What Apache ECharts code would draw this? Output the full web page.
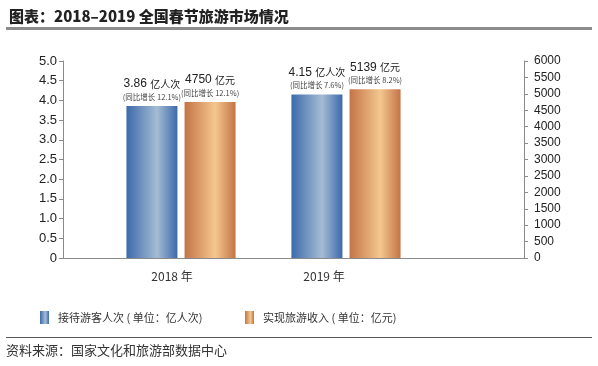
<!DOCTYPE html>
<html><head><meta charset="utf-8">
<script src="https://cdn.jsdelivr.net/npm/echarts@6/dist/echarts.min.js"></script>
<style>html,body{margin:0;padding:0;background:#fff}#c{width:598px;height:366px}</style>
</head><body><div id="c"></div>
<script>
var categories = ['2018 年', '2019 年'];
var visitors = [3.86, 4.15];
var visitorsGrowth = ['12.1%', '7.6%'];
var revenue = [4750, 5139];
var revenueGrowth = ['12.1%', '8.2%'];
var leftTicks = {min: 0, max: 5, interval: 0.5};
var rightTicks = {min: 0, max: 6000, interval: 500};
var seriesNames = ['接待游客人次 ( 单位：亿人次)', '实现旅游收入 ( 单位：亿元)'];

var FONT = '"Liberation Sans", Arial, sans-serif';
var CJK = '"Noto Sans CJK SC", sans-serif';

function grad(edge, mid) {
  return new echarts.graphic.LinearGradient(0, 0, 1, 0, [
    {offset: 0, color: edge}, {offset: 0.6, color: mid}, {offset: 1, color: edge}
  ]);
}
var blueGrad = grad('#3c6aab', '#a5bcd3');
var orangeGrad = grad('#c47447', '#f4c78f');

var rich = {
  a: {fontFamily: FONT, fontSize: 12, color: '#222', lineHeight: 14},
  c: {fontFamily: CJK, fontSize: 10, color: '#222', lineHeight: 14},
  b: {fontFamily: CJK, fontSize: 7.5, color: '#444', lineHeight: 12}
};

var chart = echarts.init(document.getElementById('c'), null, {renderer: 'canvas'});
chart.setOption({
  animation: false,
  title: {text: '图表：2018–2019 全国春节旅游市场情况', left: 4, top: 4,
    textStyle: {fontFamily: CJK, fontSize: 15, fontWeight: 900, color: '#222'}},
  grid: [
    {left: 63, right: 74, top: 61, bottom: 108},
    {left: 98.5, width: 330, top: 61, bottom: 108},
    {left: 96, width: 304, top: 61, bottom: 108}
  ],
  xAxis: [
    {type: 'category', gridIndex: 0, data: categories, axisLine: {lineStyle: {color: '#8a8a8a', width: 1}},
      axisTick: {show: false}, axisLabel: {show: false}},
    {type: 'category', gridIndex: 1, data: categories, axisLine: {show: false}, axisTick: {show: false}, axisLabel: {show: false}},
    {type: 'category', gridIndex: 2, data: categories, axisLine: {show: false}, axisTick: {show: false},
      axisLabel: {margin: 12, fontFamily: CJK, fontSize: 12, color: '#333'}}
  ],
  yAxis: [
    {type: 'value', gridIndex: 0, position: 'left', min: leftTicks.min, max: leftTicks.max, interval: leftTicks.interval,
      axisLine: {show: true, lineStyle: {color: '#8a8a8a'}}, axisTick: {show: true, length: 4, lineStyle: {color: '#8a8a8a'}},
      splitLine: {show: false},
      axisLabel: {margin: 6, fontFamily: FONT, fontSize: 13, color: '#222',
        formatter: function (v) { return v === 0 ? '0' : v.toFixed(1); }}},
    {type: 'value', gridIndex: 0, position: 'right', min: rightTicks.min, max: rightTicks.max, interval: rightTicks.interval,
      axisLine: {show: true, lineStyle: {color: '#8a8a8a'}}, axisTick: {show: true, length: 4, lineStyle: {color: '#8a8a8a'}},
      splitLine: {show: false},
      axisLabel: {margin: 10, fontFamily: FONT, fontSize: 12, color: '#222',
        formatter: function (v) { return String(v); }}},
    {type: 'value', gridIndex: 1, min: leftTicks.min, max: leftTicks.max, show: false},
    {type: 'value', gridIndex: 1, min: rightTicks.min, max: rightTicks.max, show: false},
    {type: 'value', gridIndex: 2, min: 0, max: 1, show: false}
  ],
  legend: [
    {data: [seriesNames[0]], left: 35, top: 306, icon: 'rect', itemWidth: 9, itemHeight: 13, itemGap: 6,
      textStyle: {fontFamily: CJK, fontSize: 11, color: '#333', padding: [0, 0, 0, 4]}},
    {data: [seriesNames[1]], left: 240, top: 306, icon: 'rect', itemWidth: 9, itemHeight: 13, itemGap: 6,
      textStyle: {fontFamily: CJK, fontSize: 11, color: '#333', padding: [0, 0, 0, 4]}}
  ],
  series: [
    {name: seriesNames[0], type: 'bar', xAxisIndex: 1, yAxisIndex: 2, data: visitors, barWidth: 51, barGap: '14%',
      itemStyle: {color: blueGrad},
      label: {show: true, position: 'top', distance: 3, rich: rich,
        formatter: function (p) { return '{a|' + p.value + '} {c|亿人次}\n{b|(同比增长 ' + visitorsGrowth[p.dataIndex] + ')}'; }}},
    {name: seriesNames[1], type: 'bar', xAxisIndex: 1, yAxisIndex: 3, data: revenue, barWidth: 51, barGap: '14%',
      itemStyle: {color: orangeGrad},
      label: {show: true, position: 'top', distance: 3, rich: rich,
        formatter: function (p) { return '{a|' + p.value + '} {c|亿元}\n{b|(同比增长 ' + revenueGrowth[p.dataIndex] + ')}'; }}}
  ],
  graphic: [
    {type: 'rect', left: 6, top: 27, shape: {width: 586, height: 3}, style: {fill: '#8c8c8c'}},
    {type: 'rect', left: 6, top: 337, shape: {width: 586, height: 1}, style: {fill: '#555'}},
    {type: 'text', left: 6, top: 344, style: {text: '资料来源：国家文化和旅游部数据中心', fontFamily: CJK, fontSize: 13, fill: '#333'}}
  ]
});
</script></body></html>
